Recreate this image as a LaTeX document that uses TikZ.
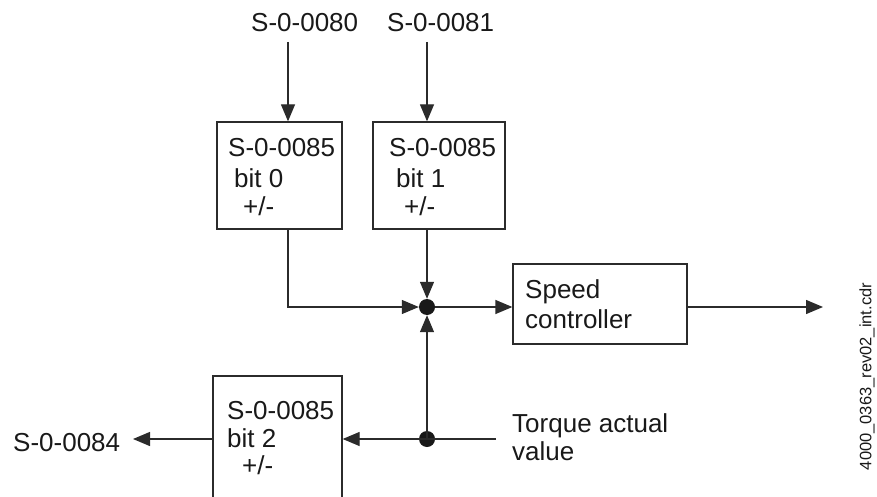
\documentclass[tikz,border=0pt]{standalone}
\usepackage{fontspec}
\setmainfont{Liberation Sans}
\usetikzlibrary{arrows.meta}
\definecolor{ln}{HTML}{2B2B2B}
\begin{document}
\begin{tikzpicture}[x=1pt,y=-1pt,
  txt/.style={inner sep=0pt, anchor=base west, font=\fontsize{26}{29}\selectfont, text=black!90},
  blk/.style={draw=ln, line width=1.3pt, inner sep=0pt, fill=none},
  dot/.style={circle, fill=black!90, inner sep=0pt, minimum size=16pt},
  arr/.style={draw=ln, line width=1.3pt, -{Triangle[length=17pt,width=14pt]}},
  con/.style={draw=ln, line width=1.3pt}]
\useasboundingbox (0,0) rectangle (877,497);
\clip (0,0) rectangle (877,497);
% boxes
\node[blk, minimum width=125pt, minimum height=107pt] (b1) at (279.5,175.5) {};
\node[blk, minimum width=132pt, minimum height=107pt] (b2) at (439,175.5) {};
\node[blk, minimum width=129pt, minimum height=134pt] (b3) at (277.5,443) {};
\node[blk, minimum width=174pt, minimum height=80pt] (sc) at (600,304) {};
% junctions
\node[dot] (j1) at (427,307) {};
\node[dot] (j2) at (427,439) {};
% texts
\node[txt] (t80) at (251,32) {S-0-0080};
\node[txt] (t81) at (387,32) {S-0-0081};
\node[txt] (b1a) at (228,157) {S-0-0085};
\node[txt] (b1b) at (234,187) {bit 0};
\node[txt] (b1c) at (243,215) {+/-};
\node[txt] (b2a) at (389,157) {S-0-0085};
\node[txt] (b2b) at (396,187) {bit 1};
\node[txt] (b2c) at (404,215) {+/-};
\node[txt] (b3a) at (227,419) {S-0-0085};
\node[txt] (b3b) at (227,447) {bit 2};
\node[txt] (b3c) at (242,474) {+/-};
\node[txt] (sca) at (525,298) {Speed};
\node[txt] (scb) at (525,328) {controller};
\node[txt] (tqa) at (512,432) {Torque actual};
\node[txt] (tqb) at (512,460) {value};
\node[txt] (t84) at (13,451) {S-0-0084};
\node[inner sep=0pt, rotate=90, font=\fontsize{16.5}{18}\selectfont, text=black!90] (fn) at (867,376.5) {4000\_0363\_rev02\_int.cdr};
% connector end points
\coordinate (i80) at (288,42);
\coordinate (i81) at (427,42);
\coordinate (out) at (823,307);
\coordinate (tq) at (496,439);
\coordinate (o84) at (133,439);
% connectors
\draw[arr] (i80) -- (b1.north -| i80);
\draw[arr] (i81) -- (b2.north -| i81);
\draw[arr] (b1.south -| i80) |- (j1.west);
\draw[arr] (b2.south -| i81) -- (j1.north);
\draw[arr] (j1.east) -- (sc.west |- j1);
\draw[arr] (sc.east |- out) -- (out);
\draw[arr] (j2.center) -- (j1.south);
\draw[arr] (tq) -- (b3.east |- tq);
\draw[arr] (b3.west |- tq) -- (o84);
\end{tikzpicture}
\end{document}
